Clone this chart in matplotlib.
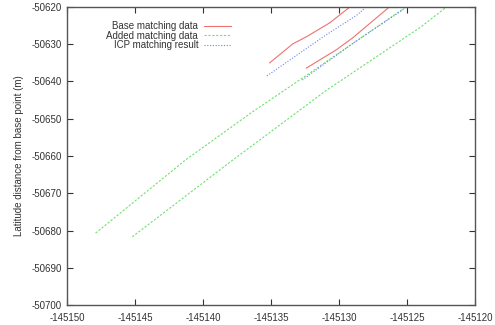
import matplotlib
matplotlib.use("Agg")
import matplotlib.pyplot as plt

# values
base1_x = [-145135.1, -145133.4, -145132.4, -145130.7, -145129.2]
base1_y = [-50635.0, -50629.9, -50628.0, -50624.3, -50620.0]
base2_x = [-145132.4, -145130.2, -145129.0, -145126.3]
base2_y = [-50636.4, -50631.5, -50628.3, -50620.0]

added1_x = [-145147.9, -145141.3, -145136.5, -145132.7, -145125.2]
added1_y = [-50680.7, -50661.1, -50648.5, -50639.1, -50620.3]
added2_x = [-145145.2, -145138.0, -145130.9, -145124.0, -145122.1]
added2_y = [-50681.7, -50661.6, -50642.3, -50625.4, -50620.0]

icp1_x = [-145135.3, -145131.2, -145128.7, -145128.1]
icp1_y = [-50638.5, -50628.1, -50622.2, -50620.3]
icp2_x = [-145132.7, -145129.0, -145125.2]
icp2_y = [-50639.6, -50629.8, -50620.5]

xticks = [-145150, -145145, -145140, -145135, -145130, -145125, -145120]
yticks = [-50700, -50690, -50680, -50670, -50660, -50650, -50640, -50630, -50620]

plt.rcParams['font.family'] = ['Liberation Sans', 'DejaVu Sans']
plt.rcParams['axes.unicode_minus'] = False

fig = plt.figure(figsize=(4.95, 3.25), dpi=100)
ax = fig.add_axes([0.1354, 0.0615, 0.8242, 0.917])

ax.plot(base1_x, base1_y, color='#f07070', lw=0.8, label='Base matching data')
ax.plot(base2_x, base2_y, color='#f07070', lw=0.8)
ax.plot(added1_x, added1_y, color='#70e070', lw=0.8, ls=(0, (2, 1.5)), label='Added matching data')
ax.plot(added2_x, added2_y, color='#70e070', lw=0.8, ls=(0, (2, 1.5)))
ax.plot(icp1_x, icp1_y, color='#7080f0', lw=0.8, ls=(0, (1, 1.5)), label='ICP matching result')
ax.plot(icp2_x, icp2_y, color='#7080f0', lw=0.8, ls=(0, (1, 1.5)))

ax.set_xlim(-145150, -145120)
ax.set_ylim(-50700, -50620)
ax.set_xticks(xticks)
ax.set_yticks(yticks)
ax.ticklabel_format(useOffset=False, style='plain')
ax.tick_params(direction='in', top=True, right=True, length=4, width=0.8,
               labelsize=7, colors='#333333', pad=4)
ax.tick_params(axis='x', pad=6)
for s in ax.spines.values():
    s.set_color('#555555')
    s.set_linewidth(1.0)

ax.set_ylabel('Latitude distance from base point (m)', fontsize=7, color='#333333', labelpad=5)
ax.set_xlabel('Longitude distance from base point (m)', fontsize=7, color='#333333', labelpad=5)

ax.legend(loc='upper left', bbox_to_anchor=(0.08, 0.975), frameon=False, markerfirst=False,
          fontsize=7, handlelength=2.8, handletextpad=0.6, labelspacing=-0.05,
          borderpad=0.2, labelcolor='#333333')

fig.savefig('out.png', dpi=100)
